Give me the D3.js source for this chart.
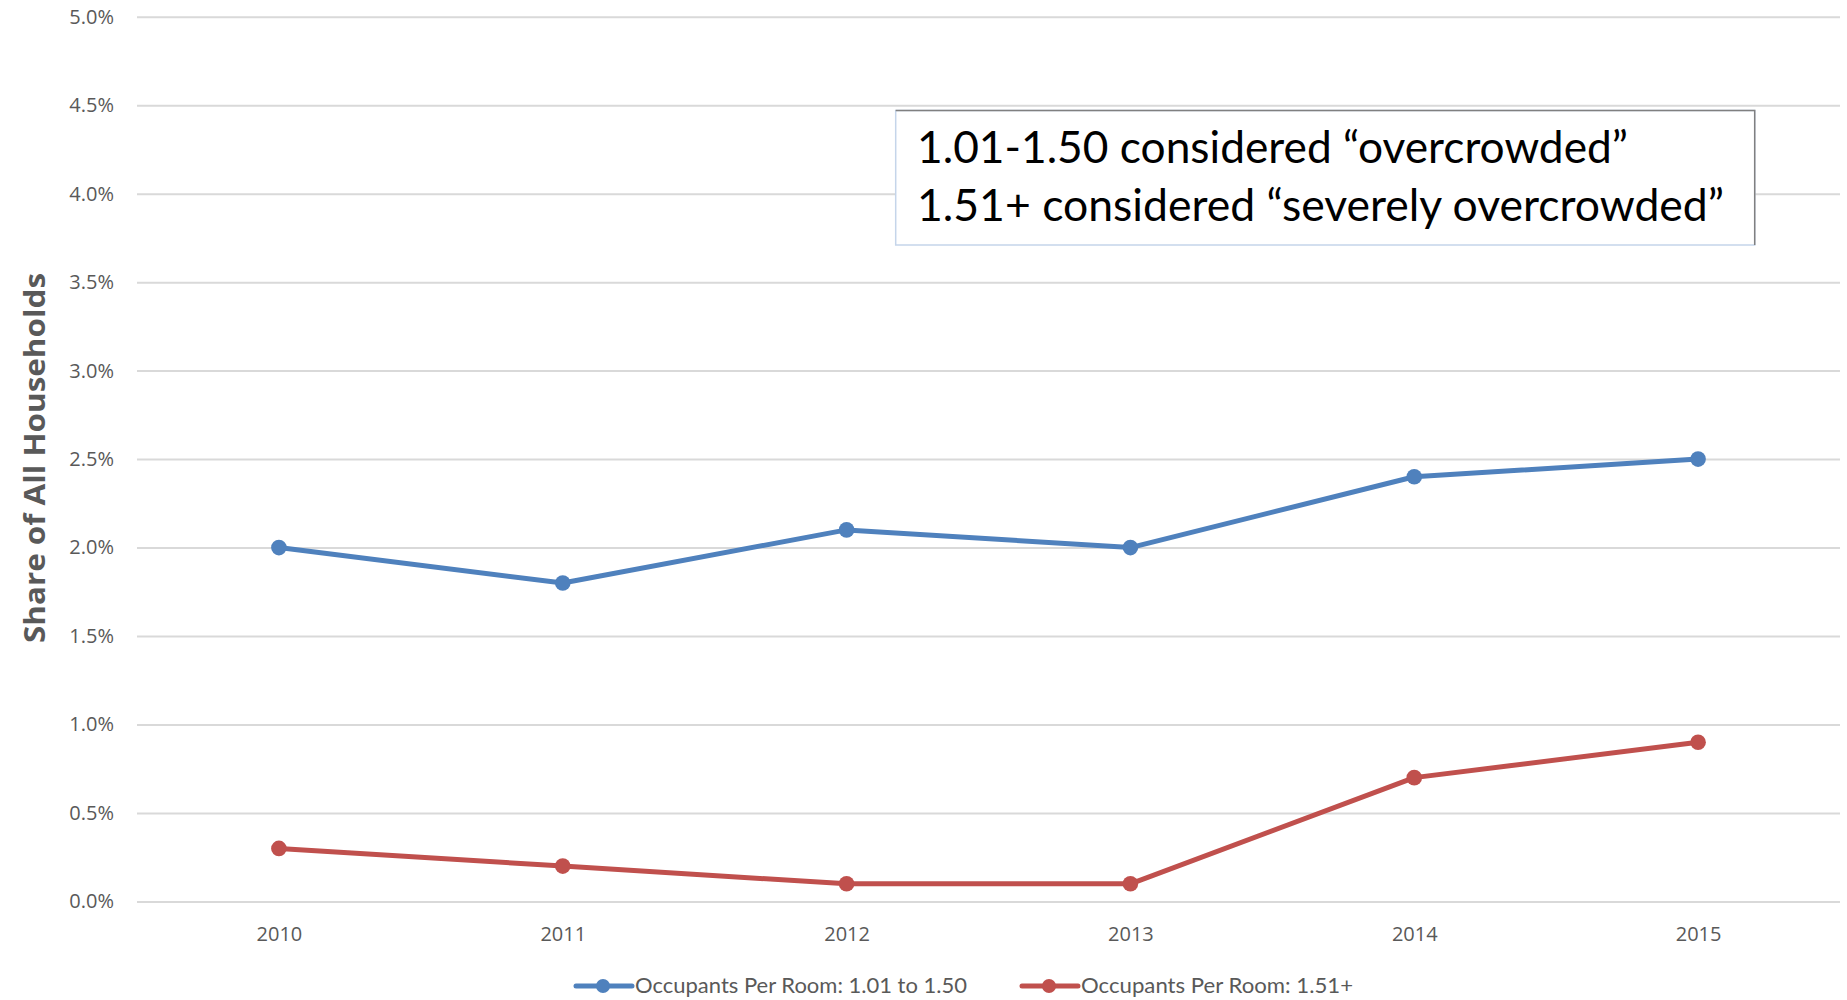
<!DOCTYPE html>
<html>
<head>
<meta charset="utf-8">
<script src="https://cdn.jsdelivr.net/npm/d3@7"></script>
<style>
  html, body { margin: 0; padding: 0; background: #ffffff; }
  svg { display: block; }
</style>
</head>
<body>
<svg id="chart" width="1847" height="1000"></svg>
<script>
// Survey years on the horizontal axis
const years = ["2010", "2011", "2012", "2013", "2014", "2015"];

// Share of all households by occupants per room
const overcrowded = [0.020, 0.018, 0.021, 0.020, 0.024, 0.025];       // 1.01 to 1.50
const severelyOvercrowded = [0.003, 0.002, 0.001, 0.001, 0.007, 0.009]; // 1.51+

// Vertical axis ticks
const yTicks = [0, 0.005, 0.01, 0.015, 0.02, 0.025, 0.03, 0.035, 0.04, 0.045, 0.05];

const seriesNames = ["Occupants Per Room: 1.01 to 1.50", "Occupants Per Room: 1.51+"];
const seriesColors = ["#4f81bd", "#c0504d"];
const noteLines = ["1.01-1.50 considered \u201covercrowded\u201d", "1.51+ considered \u201cseverely overcrowded\u201d"];

const series = [
  { name: seriesNames[0], color: seriesColors[0], values: overcrowded },
  { name: seriesNames[1], color: seriesColors[1], values: severelyOvercrowded }
];

const svg = d3.select("#chart");
const plot = { left: 137, right: 1840, top: 16.7, bottom: 901.5 };
const textGray = "#595959";
const axisFont = "'Open Sans', 'DejaVu Sans', sans-serif";
const noteFont = "Lato, 'Open Sans', sans-serif";

const x = d3.scalePoint().domain(years).range([plot.left, plot.right]).padding(0.5);
const y = d3.scaleLinear().domain([0, 0.05]).range([plot.bottom, plot.top]);

// Horizontal gridlines with percentage labels
const yAxis = svg.append("g")
  .attr("transform", `translate(${plot.left},0)`)
  .call(d3.axisLeft(y)
    .tickValues(yTicks)
    .tickFormat(d3.format(".1%"))
    .tickSize(-(plot.right - plot.left))
    .tickPadding(23));
yAxis.select(".domain").remove();
yAxis.selectAll(".tick line").attr("stroke", "#d9d9d9").attr("stroke-width", 2);
yAxis.selectAll(".tick text")
  .attr("fill", textGray)
  .style("font-family", axisFont)
  .style("font-size", "20px");

// Year labels
const xAxis = svg.append("g")
  .attr("transform", `translate(0,${plot.bottom})`)
  .call(d3.axisBottom(x).tickSize(0).tickPadding(25.3));
xAxis.select(".domain").remove();
xAxis.selectAll(".tick text")
  .attr("fill", textGray)
  .style("font-family", axisFont)
  .style("font-size", "20px");

// Axis title
svg.append("text")
  .attr("transform", "translate(45,458) rotate(-90)")
  .attr("text-anchor", "middle")
  .attr("fill", textGray)
  .attr("textLength", 370)
  .attr("lengthAdjust", "spacingAndGlyphs")
  .style("font-family", axisFont)
  .style("font-weight", "bold")
  .style("font-size", "29px")
  .text("Share of All Households");

// Series lines and markers
const line = d3.line().x((d, i) => x(years[i])).y(d => y(d));
series.forEach(s => {
  svg.append("path")
    .datum(s.values)
    .attr("d", line)
    .attr("fill", "none")
    .attr("stroke", s.color)
    .attr("stroke-width", 5)
    .attr("stroke-linejoin", "round")
    .attr("stroke-linecap", "round");
  svg.append("g").selectAll("circle")
    .data(s.values)
    .join("circle")
    .attr("cx", (d, i) => x(years[i]))
    .attr("cy", d => y(d))
    .attr("r", 7.8)
    .attr("fill", s.color);
});

// Definitions note
const note = svg.append("g");
note.append("rect")
  .attr("x", 895.7).attr("y", 110.5)
  .attr("width", 859).attr("height", 134.5)
  .attr("fill", "#ffffff")
  .attr("stroke", "#c5d5ea")
  .attr("stroke-width", 1.5);
note.append("path")
  .attr("d", "M895.7,110.5 H1754.7 V245")
  .attr("fill", "none")
  .attr("stroke", "#808080")
  .attr("stroke-width", 1.5);
const noteLengths = [711, 807];
noteLines.forEach((t, i) => {
  note.append("text")
    .attr("x", 917)
    .attr("y", 163 + i * 57.5)
    .attr("fill", "#000000")
    .attr("textLength", noteLengths[i])
    .attr("lengthAdjust", "spacingAndGlyphs")
    .style("font-family", noteFont)
    .style("font-size", "44px")
    .text(t);
});

// Legend
const legendX = [576, 1022];
const legendTextLengths = [332, 272];
const legend = svg.append("g");
series.forEach((s, i) => {
  const lx = legendX[i];
  const ly = 986;
  legend.append("line")
    .attr("x1", lx).attr("x2", lx + 56)
    .attr("y1", ly).attr("y2", ly)
    .attr("stroke", s.color)
    .attr("stroke-width", 5)
    .attr("stroke-linecap", "round");
  legend.append("circle")
    .attr("cx", lx + 27).attr("cy", ly)
    .attr("r", 7)
    .attr("fill", s.color);
  legend.append("text")
    .attr("x", lx + 59)
    .attr("y", 993)
    .attr("fill", textGray)
    .attr("textLength", legendTextLengths[i])
    .attr("lengthAdjust", "spacingAndGlyphs")
    .style("font-family", noteFont)
    .style("font-size", "21px")
    .text(s.name);
});
</script>
</body>
</html>
